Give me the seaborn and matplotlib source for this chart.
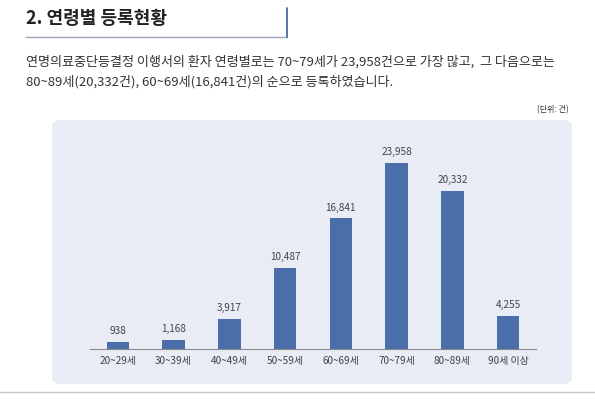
import matplotlib
matplotlib.use("Agg")
import matplotlib.pyplot as plt
import seaborn as sns
import pandas as pd
from matplotlib.patches import FancyBboxPatch
from matplotlib.lines import Line2D

# 연령별 등록 건수
age_groups = ["20~29세", "30~39세", "40~49세", "50~59세", "60~69세", "70~79세", "80~89세", "90세 이상"]
counts = [938, 1168, 3917, 10487, 16841, 23958, 20332, 4255]

title = "2. 연령별 등록현황"
desc_1 = "연명의료중단등결정 이행서의 환자 연령별로는 70~79세가 23,958건으로 가장 많고,  그 다음으로는"
desc_2 = "80~89세(20,332건), 60~69세(16,841건)의 순으로 등록하였습니다."
unit = "(단위: 건)"

df = pd.DataFrame({"age": age_groups, "count": counts})

sns.set_style("white")
plt.rcParams['font.family'] = ['Noto Sans CJK KR', 'DejaVu Sans']

W, H = 595, 399
fig = plt.figure(figsize=(W / 100, H / 100), dpi=100)
fig.patch.set_facecolor("white")

def px(x, y):
    return x / W, 1 - y / H

# 배경 패널
panel = FancyBboxPatch(px(52, 384), (572 - 52) / W, (384 - 120) / H,
                       boxstyle="round,pad=0,rounding_size=0.015",
                       transform=fig.transFigure, facecolor="#E9EBF5", edgecolor="none", zorder=-5)
fig.patches.append(panel)

# 제목 + 밑줄
fig.text(*px(26, 19), title, fontsize=13, fontweight="bold", color="#222222", va="center", ha="left")
fig.add_artist(Line2D([26 / W, 287 / W], [1 - 36.5 / H] * 2, color="#9AA3BC", lw=1.0))
fig.add_artist(Line2D([287 / W, 287 / W], [1 - 8 / H, 1 - 36.5 / H], color="#3E5C9A", lw=1.2))
fig.add_artist(Line2D([0, 1], [1 - 392 / H] * 2, color="#C8C8C8", lw=1.0))

fig.text(*px(26, 62), desc_1, fontsize=9.45, color="#333333", va="center", ha="left")
fig.text(*px(26, 82), desc_2, fontsize=9.45, color="#333333", va="center", ha="left")
fig.text(*px(569, 110), unit, fontsize=5.8, color="#333333", va="center", ha="right")

# 막대그래프
ax = fig.add_axes([90 / W, 1 - 349 / H, 446 / W, 209 / H], zorder=2)
ax.set_facecolor("none")
sns.barplot(data=df, x="age", y="count", color="#4A6EA9", width=0.4, saturation=1,
            edgecolor="none", linewidth=0, ax=ax)
ax.bar_label(ax.containers[0], labels=[f"{v:,}" for v in counts], padding=4, fontsize=7.2, color="#444444")
ax.set_ylim(0, 26900)
ax.set_xlim(-0.5, 7.5)
ax.set_xlabel("")
ax.set_ylabel("")
ax.set_yticks([])
for s in ["top", "right", "left"]:
    ax.spines[s].set_visible(False)
ax.spines["bottom"].set_color("#8A8A8A")
ax.spines["bottom"].set_linewidth(0.8)
ax.tick_params(axis="x", length=0, pad=5, labelsize=7.2, labelcolor="#444444")

fig.savefig("out.png", dpi=100)
